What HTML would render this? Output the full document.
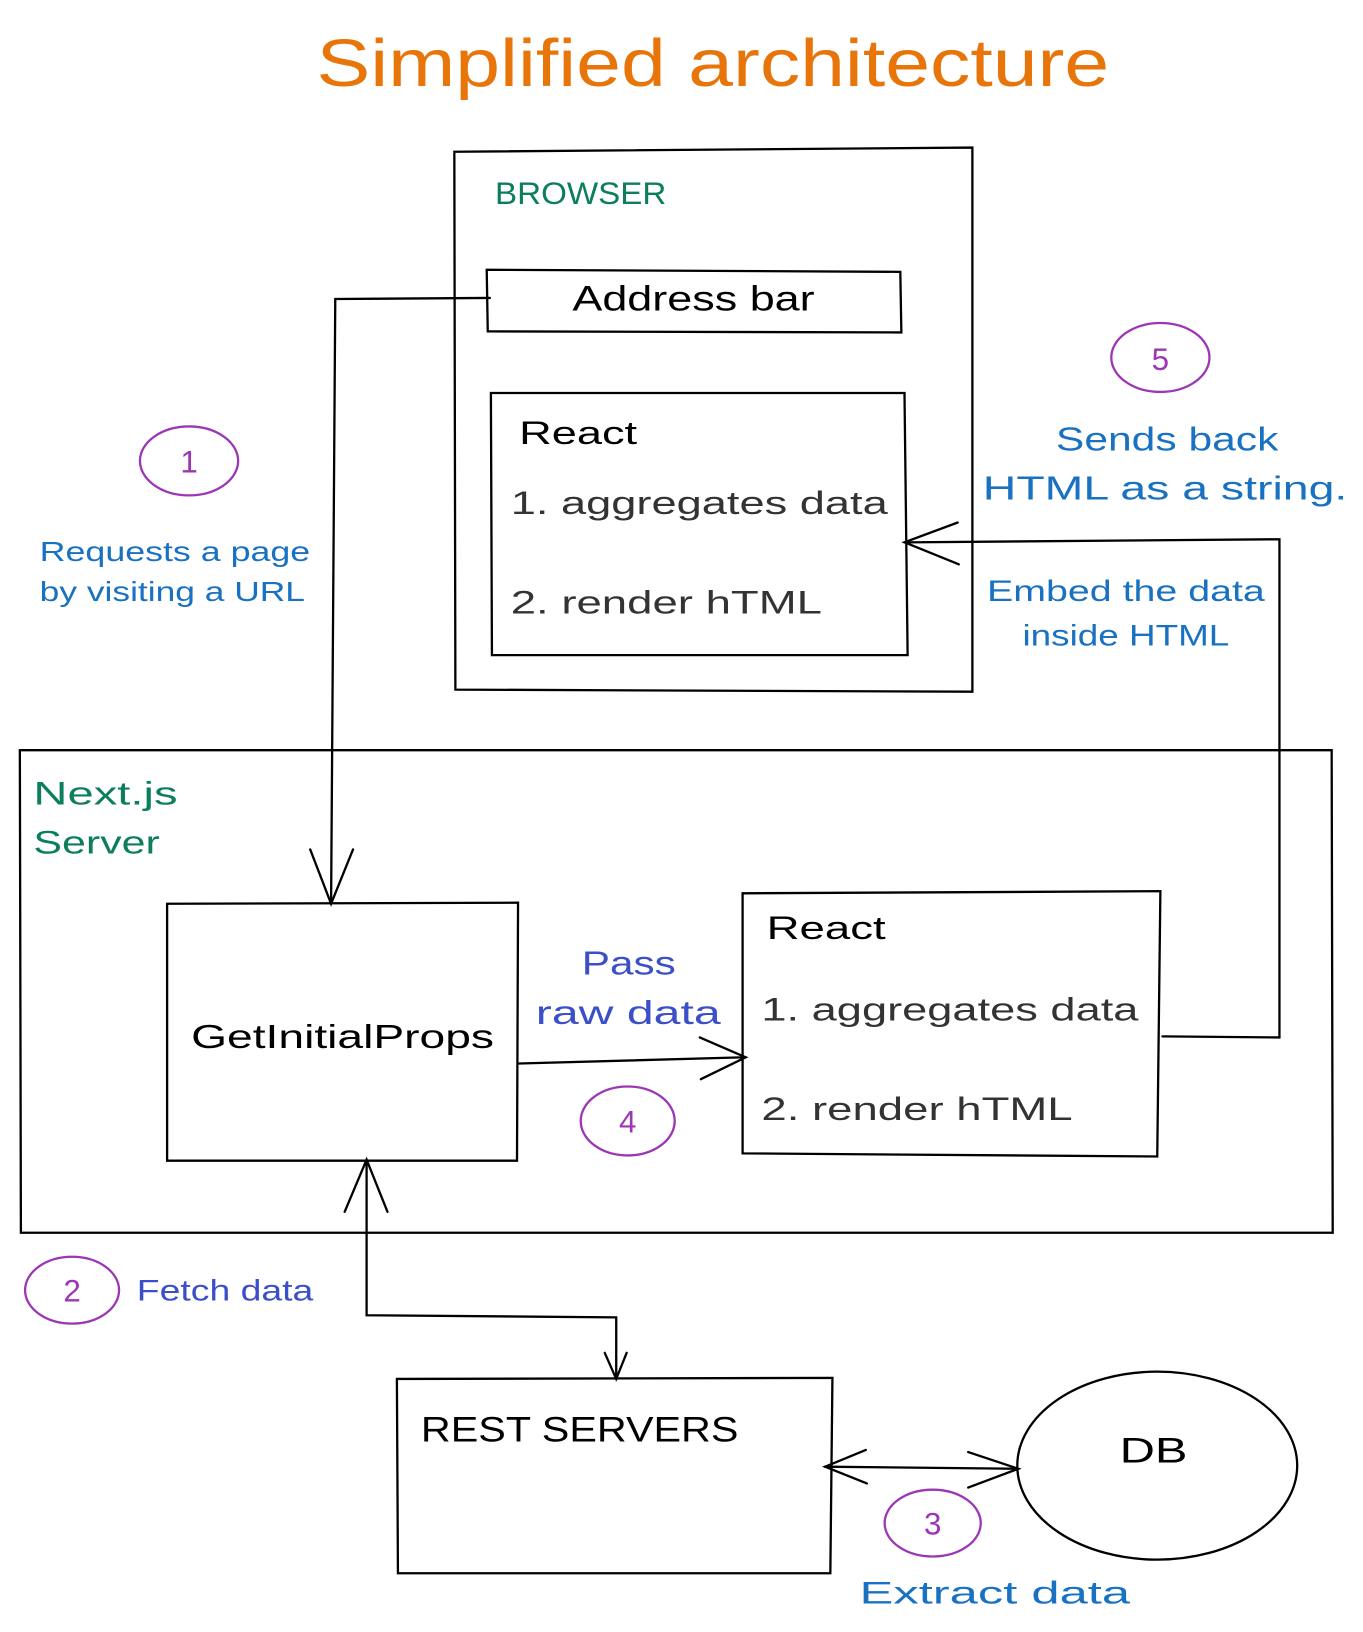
<!DOCTYPE html>
<html><head><meta charset="utf-8"><style>
html,body{margin:0;padding:0;background:#fff;width:1363px;height:1632px;overflow:hidden}
svg{display:block}
text{font-family:"Liberation Sans",sans-serif}
</style></head><body>
<svg width="1363" height="1632" viewBox="0 0 1305 1562" xmlns="http://www.w3.org/2000/svg">
<g fill="none" stroke="#000" stroke-width="2.2" stroke-linecap="round">
<path d="M435 145 L931 141 L931 662 L436 660 Z"/>
<path d="M466 258 L862 260 L863 318 L467 317 Z"/>
<path d="M470 376 L866 376 L869 627 L471 627 Z"/>
<path d="M19 718 L1275 718 L1276 1180 L20 1180 Z"/>
<path d="M160 865 L496 864 L495 1111 L160 1111 Z"/>
<path d="M711 855 L1111 853 L1108 1107 L711 1104 Z"/>
<path d="M380 1320 L797 1319 L795 1506 L381 1506 Z"/>
<ellipse cx="1108" cy="1403" rx="134" ry="90"/>
<path d="M469 285 L321 286 L317 865"/>
<path d="M297 813 L317 865 L338 813"/>
<path d="M1113 992 L1225 993 L1225 516 L866 519"/>
<path d="M917 500 L866 519 L918 540"/>
<path d="M497 1018 L714 1012"/>
<path d="M670 993 L714 1012 L671 1033"/>
<path d="M351 1110 L351 1259 L590 1261 L590 1320"/>
<path d="M330 1160 L351 1110 L371 1160"/>
<path d="M579 1295 L590 1320 L600 1295"/>
<path d="M790 1404 L975 1406"/>
<path d="M829 1388 L790 1404 L830 1420"/>
<path d="M927 1390 L975 1406 L927 1424"/>
</g>
<g fill="none" stroke="#9c36b5" stroke-width="2.2">
<ellipse cx="181" cy="441" rx="47" ry="33"/>
<ellipse cx="1111" cy="342" rx="47" ry="33"/>
<ellipse cx="601" cy="1073" rx="45" ry="33"/>
<ellipse cx="69" cy="1235" rx="45" ry="32"/>
<ellipse cx="893" cy="1458" rx="46" ry="32"/>
</g>
<g fill="#9c36b5" font-size="30" text-anchor="middle">
<text x="181" y="452">1</text><text x="1111" y="354">5</text><text x="601" y="1084">4</text><text x="69" y="1246">2</text><text x="893" y="1469">3</text>
</g>
<text x="303" y="82" font-size="64" fill="#e8750a" textLength="759" lengthAdjust="spacingAndGlyphs">Simplified architecture</text>
<text x="474" y="195" font-size="30" fill="#0c7e5e" textLength="164" lengthAdjust="spacingAndGlyphs">BROWSER</text>
<text x="548" y="297" font-size="34" fill="#000" textLength="232" lengthAdjust="spacingAndGlyphs">Address bar</text>
<g font-size="31" fill="#000">
<text x="497" y="425" textLength="113" lengthAdjust="spacingAndGlyphs">React</text>
<text x="489" y="492" fill="#333" textLength="361" lengthAdjust="spacingAndGlyphs">1. aggregates data</text>
<text x="489" y="587" fill="#333" textLength="298" lengthAdjust="spacingAndGlyphs">2. render hTML</text>
<text x="734" y="899" textLength="114" lengthAdjust="spacingAndGlyphs">React</text>
<text x="729" y="977" fill="#333" textLength="361" lengthAdjust="spacingAndGlyphs">1. aggregates data</text>
<text x="729" y="1072" fill="#333" textLength="298" lengthAdjust="spacingAndGlyphs">2. render hTML</text>
<text x="183" y="1003" font-size="32" textLength="290" lengthAdjust="spacingAndGlyphs">GetInitialProps</text>
<text x="403" y="1380" font-size="34" textLength="304" lengthAdjust="spacingAndGlyphs">REST SERVERS</text>
<text x="1072" y="1400" font-size="34" textLength="65" lengthAdjust="spacingAndGlyphs">DB</text>
</g>
<g font-size="31" fill="#0c7e5e">
<text x="32" y="770" textLength="138" lengthAdjust="spacingAndGlyphs">Next.js</text>
<text x="32" y="817" textLength="121" lengthAdjust="spacingAndGlyphs">Server</text>
</g>
<g fill="#1971c2">
<text x="1011" y="431" font-size="32" textLength="213" lengthAdjust="spacingAndGlyphs">Sends back</text>
<text x="941" y="478" font-size="32" textLength="349" lengthAdjust="spacingAndGlyphs">HTML as a string.</text>
<text x="945" y="575" font-size="28" textLength="266" lengthAdjust="spacingAndGlyphs">Embed the data</text>
<text x="979" y="618" font-size="28" textLength="198" lengthAdjust="spacingAndGlyphs">inside HTML</text>
<text x="38" y="537" font-size="27" textLength="259" lengthAdjust="spacingAndGlyphs">Requests a page</text>
<text x="38" y="575" font-size="27" textLength="254" lengthAdjust="spacingAndGlyphs">by visiting a URL</text>
<text x="823" y="1535" font-size="30" textLength="259" lengthAdjust="spacingAndGlyphs">Extract data</text>
</g>
<g fill="#3b4fc9">
<text x="557" y="933" font-size="32" textLength="90" lengthAdjust="spacingAndGlyphs">Pass</text>
<text x="513" y="980" font-size="32" textLength="177" lengthAdjust="spacingAndGlyphs">raw data</text>
<text x="131" y="1245" font-size="28" textLength="169" lengthAdjust="spacingAndGlyphs">Fetch data</text>
</g>
</svg>
</body></html>
